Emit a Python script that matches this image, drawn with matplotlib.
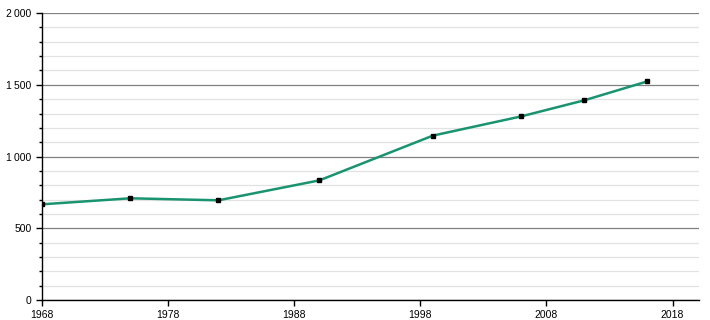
import matplotlib
matplotlib.use('Agg')
import matplotlib.pyplot as plt
from matplotlib.ticker import MultipleLocator, FuncFormatter

years = [1968, 1975, 1982, 1990, 1999, 2006, 2011, 2016]
population = [667, 709, 695, 834, 1146, 1280, 1392, 1524]
xticks = [1968, 1978, 1988, 1998, 2008, 2018]

plt.rcParams['font.family'] = ['Liberation Sans', 'DejaVu Sans']

fig = plt.figure(figsize=(7.1, 3.2), dpi=100)
ax = fig.add_axes([0.059, 0.0625, 0.9255, 0.8965])

ax.plot(years, population, color='#1a9370', lw=1.8, zorder=3)
ax.plot(years, population, 's', color='black', ms=3.5, zorder=4)

ax.set_xlim(1968, 2020.1)
ax.set_ylim(0, 2000)
ax.set_xticks(xticks)
ax.yaxis.set_major_locator(MultipleLocator(500))
ax.yaxis.set_minor_locator(MultipleLocator(100))
ax.yaxis.set_major_formatter(FuncFormatter(lambda v, p: f'{int(v):,}'.replace(',', '\u2009')))

ax.grid(axis='y', which='major', color='#808080', lw=0.9)
ax.grid(axis='y', which='minor', color='#e2e2e2', lw=0.9)
ax.set_axisbelow(True)

for s in ['top', 'right']:
    ax.spines[s].set_visible(False)
for s in ['left', 'bottom']:
    ax.spines[s].set_color('black')
    ax.spines[s].set_linewidth(1)

ax.tick_params(labelsize=7.5, length=4, width=1, colors='black')
ax.tick_params(which='minor', length=2.5, width=1)

fig.savefig('out.png', dpi=100)
